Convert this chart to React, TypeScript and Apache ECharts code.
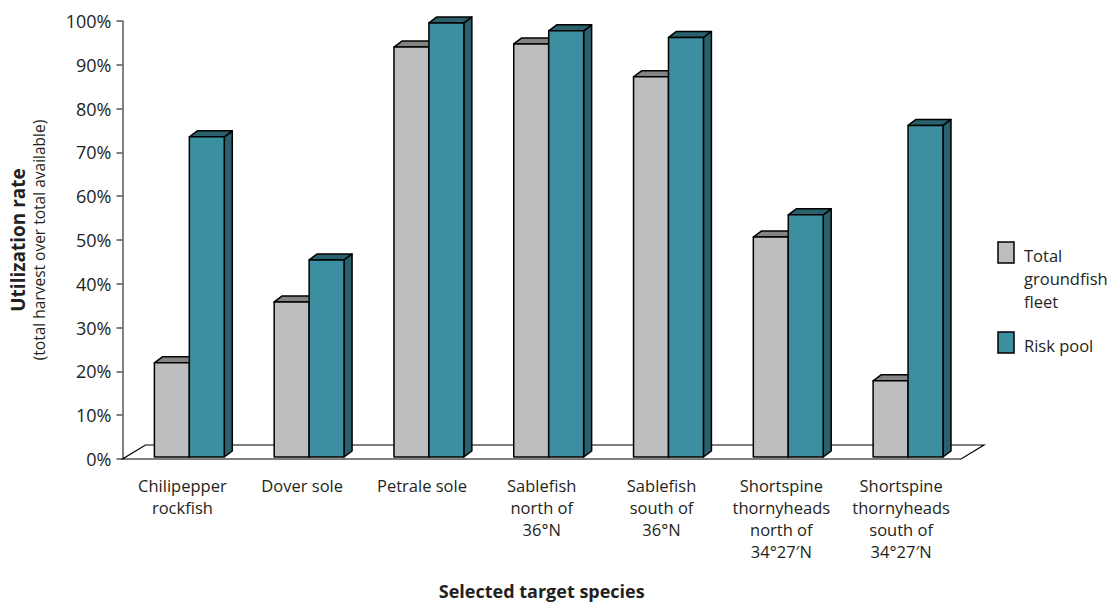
import React, { useEffect, useRef } from "react";
import * as echarts from "echarts";

const categories = [
  "Chilipepper\nrockfish",
  "Dover sole",
  "Petrale sole",
  "Sablefish\nnorth of\n36°N",
  "Sablefish\nsouth of\n36°N",
  "Shortspine\nthornyheads\nnorth of\n34°27′N",
  "Shortspine\nthornyheads\nsouth of\n34°27′N",
];
const totalFleet = [21.5, 35.4, 93.6, 94.3, 86.8, 50.2, 17.4];
const riskPool = [73.1, 45.0, 99.1, 97.3, 95.8, 55.3, 75.7];
const seriesNames = ["Total groundfish fleet", "Risk pool"];
const legendLabels = ["Total\ngroundfish\nfleet", "Risk pool"];

const FONT = "'Open Sans', 'Noto Sans', sans-serif";
const GRAY = "#bdbec0";
const GRAY_DARK = "#838486";
const TEAL = "#3c8fa1";
const TEAL_DARK = "#2a616d";

function makeBarRenderer(slot: number, front: string, dark: string) {
  return (params: any, api: any) => {
    const i = api.value(0);
    const v = api.value(1);
    const top = api.coord([i, v]);
    const base = api.coord([i, 0]);
    const band = api.size([1, 0])[0];
    const bw = band * 0.2917;
    const shift = band * 0.058;
    const x0 = top[0] - bw + shift + slot * bw;
    const x1 = x0 + bw;
    const yb = base[1] - 2;
    const yt = top[1] - 2;
    const dx = 8;
    const dy = -6;
    const stroke = { stroke: "#000", lineWidth: 1.5, lineJoin: "round" };
    return {
      type: "group",
      children: [
        {
          type: "polygon",
          shape: { points: [[x1, yb], [x1 + dx, yb + dy], [x1 + dx, yt + dy], [x1, yt]] },
          style: { fill: dark, ...stroke },
        },
        {
          type: "polygon",
          shape: { points: [[x0, yt], [x0 + dx, yt + dy], [x1 + dx, yt + dy], [x1, yt]] },
          style: { fill: dark, ...stroke },
        },
        {
          type: "rect",
          shape: { x: x0, y: yt, width: bw, height: yb - yt },
          style: { fill: front, ...stroke },
        },
      ],
    };
  };
}

export default function App() {
  const ref = useRef<HTMLDivElement>(null);
  useEffect(() => {
    document.body.style.margin = "0";
    if (!ref.current) return;
    const chart = echarts.init(ref.current, undefined, { renderer: "svg" });
    const option: any = {
      animation: false,
      textStyle: { fontFamily: FONT },
      grid: { left: 121, right: 154, top: 21, bottom: 145, containLabel: false },
      xAxis: {
        type: "category",
        data: categories,
        axisLine: { show: false },
        axisTick: { show: false },
        axisLabel: {
          interval: 0,
          fontSize: 16.5,
          lineHeight: 22,
          margin: 15,
          color: "#231f20",
          fontFamily: FONT,
        },
        name: "Selected target species",
        nameLocation: "middle",
        nameGap: 123,
        nameTextStyle: { fontSize: 18, fontWeight: "bold", color: "#231f20", fontFamily: FONT },
      },
      yAxis: {
        type: "value",
        min: 0,
        max: 100,
        interval: 10,
        axisLine: { show: true, lineStyle: { color: "#58595b", width: 1.5 } },
        axisTick: { show: true, length: 6, lineStyle: { color: "#58595b", width: 1.5 } },
        splitLine: { show: false },
        axisLabel: {
          formatter: "{value}%",
          fontSize: 18,
          margin: 11,
          color: "#231f20",
          fontFamily: FONT,
        },
        name: "{a|Utilization rate}\n{b|(total harvest over total available)}",
        nameLocation: "middle",
        nameRotate: 90,
        nameGap: 74,
        nameTextStyle: {
          rich: {
            a: { fontSize: 19, fontWeight: "bold", lineHeight: 22, color: "#231f20", fontFamily: FONT },
            b: { fontSize: 15.5, lineHeight: 20, color: "#231f20", fontFamily: FONT },
          },
        },
      },
      series: [
        {
          type: "custom",
          name: "floor",
          silent: true,
          data: [[0, 0]],
          renderItem: (params: any, api: any) => {
            const cs = params.coordSys;
            const yb = cs.y + cs.height;
            const x0 = cs.x;
            const x1 = cs.x + cs.width;
            return {
              type: "polygon",
              shape: { points: [[x0, yb], [x1, yb], [x1 + 23, yb - 14], [x0 + 23, yb - 14]] },
              style: { fill: "#fff", stroke: "#000", lineWidth: 1.2 },
            };
          },
        },
        {
          type: "custom",
          name: seriesNames[0],
          data: totalFleet.map((v, i) => [i, v]),
          encode: { x: 0, y: 1 },
          renderItem: makeBarRenderer(0, GRAY, GRAY_DARK),
        },
        {
          type: "custom",
          name: seriesNames[1],
          data: riskPool.map((v, i) => [i, v]),
          encode: { x: 0, y: 1 },
          renderItem: makeBarRenderer(1, TEAL, TEAL_DARK),
        },
      ],
      graphic: [
        {
          type: "rect",
          shape: { x: 998, y: 242, width: 16, height: 21 },
          style: { fill: GRAY, stroke: "#000", lineWidth: 1.5 },
        },
        {
          type: "text",
          x: 1024,
          y: 244,
          style: {
            text: legendLabels[0],
            fontSize: 16.5,
            lineHeight: 23,
            fill: "#231f20",
            fontFamily: FONT,
            verticalAlign: "top",
          },
        },
        {
          type: "rect",
          shape: { x: 998, y: 332, width: 16, height: 21 },
          style: { fill: TEAL, stroke: "#000", lineWidth: 1.5 },
        },
        {
          type: "text",
          x: 1024,
          y: 334,
          style: {
            text: legendLabels[1],
            fontSize: 16.5,
            lineHeight: 23,
            fill: "#231f20",
            fontFamily: FONT,
            verticalAlign: "top",
          },
        },
      ],
    };
    chart.setOption(option);
    return () => chart.dispose();
  }, []);
  return <div ref={ref} style={{ width: 1115, height: 605 }} />;
}
